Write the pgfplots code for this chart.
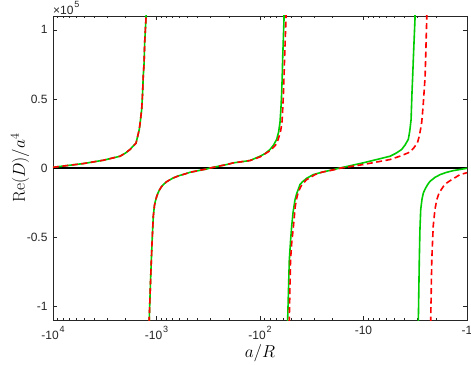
\documentclass[border=0pt]{standalone}
\usepackage[no-math]{fontspec}
\usepackage{pgfplots}
\pgfplotsset{compat=1.18}
\newfontfamily\arialfont{Liberation Sans}
\definecolor{mgreen}{rgb}{0,0.8,0}
\definecolor{axgray}{rgb}{0.15,0.15,0.15}
\newcommand{\sups}[1]{\hspace{0.8pt}\raisebox{6.5pt}{\fontsize{9}{9}\selectfont #1}}
\begin{document}
\begin{tikzpicture}
\begin{axis}[
  scale only axis, width=414pt, height=304pt,
  xmode=log, x dir=reverse,
  xmin=1, xmax=10000, ymin=-1.1, ymax=1.1,
  unbounded coords=jump,
  axis line style={axgray, line width=0.6pt},
  every tick/.style={axgray, line width=0.6pt},
  tick align=inside,
  major tick length=4pt, minor tick length=2.5pt,
  xtick={1,10,100,1000,10000},
  xticklabels={-1,-10,-10\sups{2},-10\sups{3},-10\sups{4}},
  minor xtick={2,3,4,5,6,7,8,9,20,30,40,50,60,70,80,90,200,300,400,500,600,700,800,900,2000,3000,4000,5000,6000,7000,8000,9000},
  ytick={-1,-0.5,0,0.5,1},
  yticklabels={-1,-0.5,0,0.5,1},
  minor y tick num=0,
  tick label style={font=\arialfont\fontsize{12}{14}\selectfont, text=axgray},
  xticklabel style={yshift=-3pt},
  yticklabel style={xshift=-2pt},
  xlabel={$a/R$},
  ylabel={$\mathrm{Re}(D)/a^4$},
  label style={font=\fontsize{18.5}{22}\selectfont},
  xlabel style={at={(axis description cs:0.5,-0.109)}, anchor=center},
  ylabel style={at={(axis description cs:-0.0797,0.5)}, anchor=center},
]
\addplot[black, line width=1.2pt] coordinates {(10000,0) (1,0)};
% green solid
\addplot[mgreen, line width=1.6pt] coordinates {
(10000,0.005) (5093,0.032) (3266,0.056) (2254,0.085) (1995,0.108) (1803,0.134)
(1698,0.155) (1578,0.18) (1514,0.235) (1466,0.28) (1429,0.345) (1390,0.425)
(1365,0.53) (1342,0.667) (1318,0.76) (1300,0.91) (1262,1.09) (1245,1.6)
(1220,nan)
(1190,-1.6) (1175,-1.09) (1138,-0.79) (1105,-0.545) (1074,-0.35) (1047,-0.272)
(1023,-0.237) (995,-0.206) (966,-0.18) (933,-0.157) (902,-0.139) (859,-0.12)
(794,-0.098) (741,-0.085) (689,-0.072) (603,-0.055) (525,-0.042) (474,-0.031)
(327,-0.007) (304,0) (210,0.025) (181,0.037)
(125,0.054) (100,0.085) (89.1,0.105) (80,0.134) (74.1,0.165) (69,0.207) (66.1,0.26)
(64.1,0.33) (62.8,0.43) (61.7,0.547) (61.0,0.66) (60.4,0.79) (58.6,1.08) (58.0,1.6)
(56,nan)
(54.6,-1.6) (54.0,-1.09) (52.1,-0.667) (50.7,-0.53) (49.4,-0.42) (47.9,-0.32)
(45.9,-0.23) (44.2,-0.185) (42.7,-0.155) (41.1,-0.12) (38.9,-0.10) (35.5,-0.075)
(30.6,-0.048) (25.1,-0.03) (19.6,-0.012) (16.9,0) (10.1,0.037) (5.55,0.085)
(4.90,0.105) (4.28,0.134) (3.98,0.165) (3.69,0.207) (3.57,0.27) (3.47,0.35)
(3.40,0.547) (3.35,0.66) (3.30,0.79) (3.18,1.08) (3.15,1.6)
(3.05,nan)
(2.97,-1.6) (2.95,-1.09) (2.89,-0.667) (2.85,-0.45) (2.80,-0.30) (2.72,-0.225)
(2.64,-0.18) (2.51,-0.145) (2.40,-0.12) (2.28,-0.097) (2.04,-0.068)
(1.82,-0.048) (1.585,-0.032) (1.355,-0.019) (1,-0.002)
};
% red dashed
\addplot[red, line width=1.6pt, dash pattern=on 6pt off 3.5pt] coordinates {
(10000,0.005) (5093,0.032) (3266,0.056) (2254,0.085) (1995,0.108) (1803,0.134)
(1698,0.155) (1578,0.18) (1514,0.235) (1466,0.28) (1429,0.345) (1390,0.425)
(1365,0.53) (1342,0.667) (1318,0.76) (1300,0.91) (1262,1.09) (1245,1.6)
(1220,nan)
(1190,-1.6) (1175,-1.09) (1138,-0.79) (1105,-0.545) (1074,-0.35) (1047,-0.272)
(1023,-0.237) (995,-0.206) (966,-0.18) (933,-0.157) (902,-0.139) (859,-0.12)
(794,-0.098) (741,-0.085) (689,-0.072) (603,-0.055) (525,-0.042) (474,-0.031)
(327,-0.007) (304,0) (210,0.025) (181,0.037)
(125,0.054) (100,0.08) (80,0.125) (70.8,0.165) (66.7,0.207) (63.1,0.27)
(61.3,0.33) (60.3,0.43) (59.3,0.547) (58.6,0.66) (57.9,0.79) (56.1,1.08) (55.5,1.6)
(54,nan)
(52.6,-1.6) (52.1,-1.09) (50.7,-0.667) (49.4,-0.545) (47.5,-0.42) (45.7,-0.28)
(44.2,-0.22) (42.9,-0.18) (40.7,-0.14) (39.3,-0.12) (35.5,-0.085) (29.4,-0.048)
(25.1,-0.03) (19.1,-0.012) (16.5,0) (10.1,0.025) (5.55,0.061) (4.47,0.085)
(3.69,0.11) (3.31,0.14) (3.02,0.18) (2.88,0.235) (2.74,0.33) (2.66,0.44)
(2.60,0.547) (2.54,0.66) (2.51,0.79) (2.45,1.08) (2.42,1.6)
(2.35,nan)
(2.26,-1.6) (2.24,-1.09) (2.19,-0.667) (2.12,-0.42) (2.04,-0.30) (1.96,-0.23)
(1.86,-0.18) (1.69,-0.133) (1.55,-0.105) (1.41,-0.085) (1.17,-0.048) (1,-0.034)
};
\end{axis}
\node[anchor=base west, inner sep=0pt, text=axgray, font=\arialfont\fontsize{12}{14}\selectfont]
  at ([yshift=1.5pt]current axis.north west) {\texttimes10\sups{5}};
\pgfresetboundingbox
\path[use as bounding box] ([xshift=-53pt,yshift=-44pt]current axis.south west)
  rectangle ([xshift=4pt,yshift=16pt]current axis.north east);
\end{tikzpicture}
\end{document}
